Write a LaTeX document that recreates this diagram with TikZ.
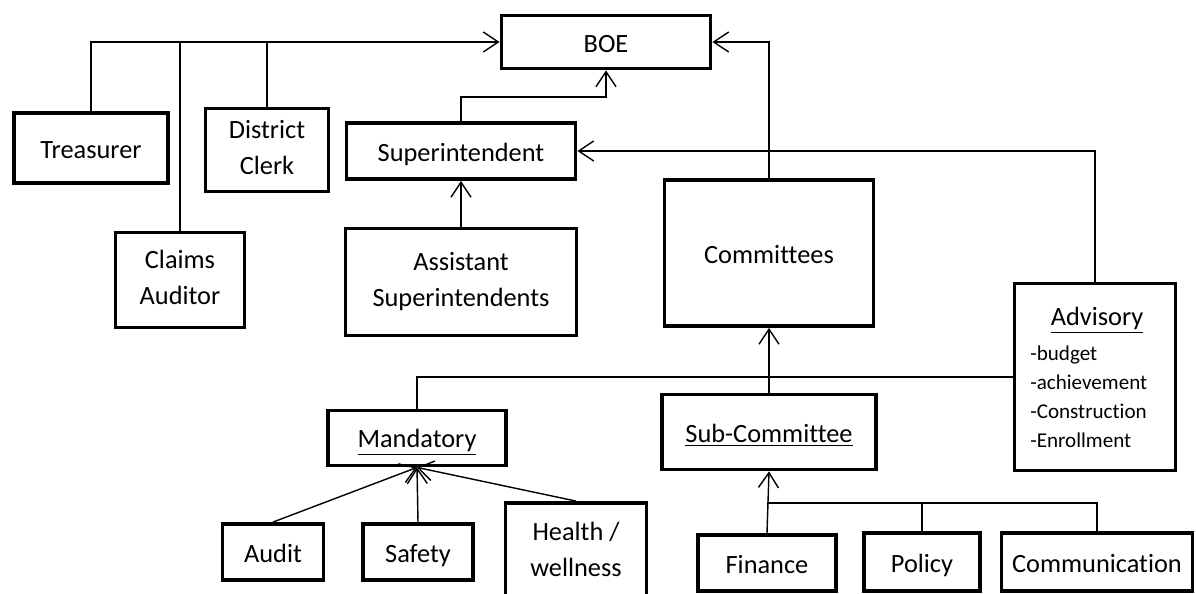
\documentclass[tikz,border=0pt]{standalone}
\usepackage{fontspec}
\setmainfont{Carlito}[Ligatures=NoCommon]
\usetikzlibrary{arrows.meta, calc}
\newcommand{\boxstrut}{\rule[-.2em]{0pt}{1.2em}}
\tikzset{box/.style={draw, line width=2.2pt, align=center, inner sep=2pt, font=\fontsize{15}{20.5}\selectfont, execute at begin node=\boxstrut, execute at end node=\boxstrut},
arr/.style={-{Straight Barb[length=3mm, width=4mm]}, line width=.8pt},
link/.style={line width=.8pt}}

\begin{document}
\begin{tikzpicture}[x=0.02cm, y=-0.02cm]
\useasboundingbox (0,0) rectangle (1196,594);
% top row
\node[box, minimum width=4.18cm, minimum height=1.06cm] (boe) at (606,42) {BOE};
\node[box, minimum width=3.08cm, minimum height=1.40cm] (treasurer) at (91,148) {Treasurer};
\node[box, minimum width=2.46cm, minimum height=1.66cm] (clerk) at (267,150) {District\\Clerk};
\node[box, minimum width=2.58cm, minimum height=1.90cm] (claims) at (180,280) {Claims\\Auditor};
\node[box, minimum width=4.58cm, minimum height=1.12cm] (sup) at (461,151) {Superintendent};
\node[box, minimum width=4.62cm, minimum height=2.14cm] (assist) at (461,282) {Assistant\\Superintendents};
\node[box, minimum width=4.18cm, minimum height=2.92cm] (committees) at (769,253) {Committees};
% advisory box
\node[box, minimum width=3.22cm, minimum height=3.74cm] (advisory) at (1095,377) {};
\node[font=\fontsize{15}{18}\selectfont] (advtitle) at (1097,320) {\underline{Advisory}};
\node[anchor=north west, align=left, inner sep=0pt, font=\fontsize{12}{16.4}\selectfont] (advlist) at (1030,346) {-budget\\-achievement\\-Construction\\-Enrollment};
% lower rows
\node[box, minimum width=3.56cm, minimum height=1.10cm] (mandatory) at (417,438) {\underline{Mandatory}};
\node[box, minimum width=4.28cm, minimum height=1.50cm] (sub) at (769,432) {\underline{Sub-Committee}};
\node[box, minimum width=2.02cm, minimum height=1.12cm] (audit) at (273,552) {Audit};
\node[box, minimum width=2.20cm, minimum height=1.12cm] (safety) at (418,552) {Safety};
\node[box, minimum width=2.82cm, minimum height=1.96cm] (health) at (576,552) {Health /\\wellness};
\node[box, minimum width=2.76cm, minimum height=1.12cm] (finance) at (767,563) {Finance};
\node[box, minimum width=2.32cm, minimum height=1.16cm] (policy) at (922,562) {Policy};
\node[box, minimum width=3.82cm, minimum height=1.16cm] (commu) at (1097,562) {Communication};

\coordinate (supjoin) at (606,97);
\coordinate (subbus) at (767,503);

\draw[arr] (treasurer.north) |- (boe.west);
\draw[link] (claims.north) -- (claims.north |- boe.west);
\draw[link] (clerk.north) -- (clerk.north |- boe.west);
\draw[arr] (sup.north) |- (supjoin) -- (boe.south);
\draw[arr] (assist.north) -- (sup.south);
\draw[arr] (committees.north) |- (boe.east);
\draw[arr] (advisory.north) |- (sup.east);
\draw[arr] (sub.north) -- (committees.south);
\draw[link] (mandatory.north) |- (advisory.west);
\draw[arr] (audit.north) -- (mandatory.south);
\draw[arr] (safety.north) -- (mandatory.south);
\draw[arr] (health.north) -- (mandatory.south);
\draw[arr] (finance.north) -- (sub.south);
\draw[link] (policy.north) |- (subbus);
\draw[link] (commu.north) |- (subbus);
\end{tikzpicture}
\end{document}
